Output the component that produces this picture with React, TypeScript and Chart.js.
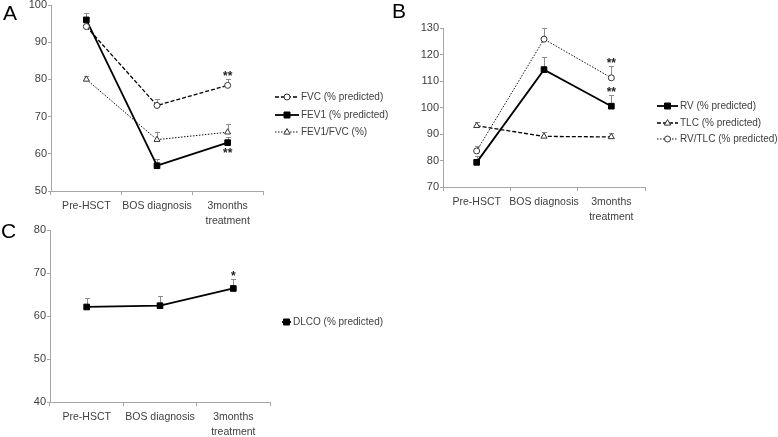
import React, { useEffect, useRef } from 'react';
import { Chart, registerables } from 'chart.js';
Chart.register(...registerables);

const W = 778;
const H = 437;
const FONT = "'Liberation Sans', Arial, sans-serif";
const TEXT = '#404040';
const AXIS = '#a6a6a6';
const ERR = '#8c8c8c';

const categories: (string | string[])[] = ['Pre-HSCT', 'BOS diagnosis', ['3months', 'treatment']];

// Panel A
const yTicksA = [50, 60, 70, 80, 90, 100];
const fvc = [94.2, 73.0, 78.4];
const fvcUpper = [95.6, 74.7, 80.2];
const fvcMarks = ['', '', '**'];
const fev1 = [96.0, 56.8, 63.0];
const fev1Upper = [97.9, 58.7, 64.6];
const fev1Marks = ['', '', '**'];
const fev1Fvc = [80.0, 63.8, 65.8];
const fev1FvcUpper = [80.9, 65.8, 68.0];
const fev1FvcMarks = ['', '', ''];

// Panel B
const yTicksB = [70, 80, 90, 100, 110, 120, 130];
const rv = [79.3, 114.3, 100.5];
const rvUpper = [81.6, 119.0, 104.8];
const rvMarks = ['', '', '**'];
const tlc = [93.1, 89.1, 88.9];
const tlcUpper = [94.5, 90.6, 90.3];
const tlcMarks = ['', '', ''];
const rvTlc = [83.6, 125.8, 111.2];
const rvTlcUpper = [85.6, 130.0, 115.6];
const rvTlcMarks = ['', '', '**'];

// Panel C
const yTicksC = [40, 50, 60, 70, 80];
const dlco = [62.1, 62.4, 66.4];
const dlcoUpper = [64.1, 64.6, 68.6];
const dlcoMarks = ['', '', '*'];

type Area = { left: number; right: number; top: number; bottom: number };

function drawMarker(ctx: CanvasRenderingContext2D, style: string, x: number, y: number, r: number, fill: string, stroke: string) {
  ctx.save();
  ctx.fillStyle = fill;
  ctx.strokeStyle = stroke;
  ctx.lineWidth = 1;
  ctx.setLineDash([]);
  ctx.beginPath();
  if (style === 'rect') {
    const s = r * 0.75;
    ctx.rect(x - s, y - s, 2 * s, 2 * s);
  } else if (style === 'triangle') {
    ctx.moveTo(x, y - r);
    ctx.lineTo(x + r * 0.9, y + r * 0.6);
    ctx.lineTo(x - r * 0.9, y + r * 0.6);
    ctx.closePath();
  } else {
    ctx.arc(x, y, r, 0, Math.PI * 2);
  }
  ctx.fill();
  ctx.stroke();
  ctx.restore();
}

const annotate = {
  id: 'annotate',
  beforeDatasetsDraw(chart: any) {
    const ctx = chart.ctx;
    const ys = chart.scales.y;
    chart.data.datasets.forEach((ds: any, di: number) => {
      const meta = chart.getDatasetMeta(di);
      meta.data.forEach((pt: any, i: number) => {
        const up = ds.errUpper[i];
        const x = Math.round(pt.x) + 0.5;
        const yTop = Math.round(ys.getPixelForValue(up)) + 0.5;
        ctx.save();
        ctx.strokeStyle = ERR;
        ctx.lineWidth = 1;
        ctx.beginPath();
        ctx.moveTo(x, pt.y);
        ctx.lineTo(x, yTop);
        ctx.moveTo(x - 2.5, yTop);
        ctx.lineTo(x + 2.5, yTop);
        ctx.stroke();
        ctx.restore();
      });
    });
  },
  afterDatasetsDraw(chart: any, _args: any, opts: any) {
    const ctx = chart.ctx;
    const ys = chart.scales.y;
    chart.data.datasets.forEach((ds: any, di: number) => {
      const meta = chart.getDatasetMeta(di);
      meta.data.forEach((pt: any, i: number) => {
        const m = ds.marks[i];
        if (!m) return;
        ctx.save();
        ctx.fillStyle = '#222';
        ctx.font = `bold 12px ${FONT}`;
        ctx.textAlign = 'center';
        ctx.textBaseline = 'alphabetic';
        if (ds.markPos === 'below') {
          ctx.fillText(m, pt.x, pt.y + 14);
        } else {
          const yTop = ys.getPixelForValue(ds.errUpper[i]);
          ctx.fillText(m, pt.x, yTop + 1);
        }
        ctx.restore();
      });
    });
    const lg = opts.legend;
    chart.data.datasets.forEach((ds: any, di: number) => {
      const y = lg.ys[di];
      ctx.save();
      ctx.strokeStyle = ds.borderColor;
      ctx.lineWidth = ds.borderWidth;
      ctx.setLineDash(ds.borderDash || []);
      ctx.beginPath();
      ctx.moveTo(lg.x, y);
      ctx.lineTo(lg.x + lg.len, y);
      ctx.stroke();
      ctx.restore();
      drawMarker(ctx, ds.pointStyle, lg.x + lg.len / 2, y, ds.pointRadius, ds.pointBackgroundColor, ds.pointBorderColor);
      ctx.save();
      ctx.fillStyle = TEXT;
      ctx.font = `10px ${FONT}`;
      ctx.textAlign = 'left';
      ctx.textBaseline = 'middle';
      ctx.fillText(ds.label, lg.x + lg.len + 2, y);
      ctx.restore();
    });
    ctx.save();
    ctx.fillStyle = '#000';
    ctx.font = `21px ${FONT}`;
    ctx.textAlign = 'left';
    ctx.textBaseline = 'alphabetic';
    ctx.fillText(opts.letter, opts.letterX, opts.letterY);
    ctx.restore();
  },
};

function series(label: string, data: number[], upper: number[], marks: string[], kind: string, markPos = 'above') {
  const base: any = {
    label,
    data,
    errUpper: upper,
    marks,
    markPos,
    borderColor: '#000',
    pointBorderColor: '#333',
    pointBorderWidth: 1,
    pointHoverRadius: 0,
  };
  if (kind === 'solidSquare') {
    return { ...base, borderWidth: 1.8, borderDash: [], pointStyle: 'rect', pointRadius: 4, pointBackgroundColor: '#000', pointBorderColor: '#000' };
  }
  if (kind === 'dashCircle') {
    return { ...base, borderWidth: 1.3, borderDash: [4, 2], pointStyle: 'circle', pointRadius: 3, pointBackgroundColor: '#fff' };
  }
  if (kind === 'dashTriangle') {
    return { ...base, borderWidth: 1.3, borderDash: [4, 2], pointStyle: 'triangle', pointRadius: 3.5, pointBackgroundColor: '#fff' };
  }
  if (kind === 'dotTriangle') {
    return { ...base, borderColor: '#111', borderWidth: 1, borderDash: [1.5, 1.5], pointStyle: 'triangle', pointRadius: 3.5, pointBackgroundColor: '#fff' };
  }
  return { ...base, borderColor: '#111', borderWidth: 1, borderDash: [1.5, 1.5], pointStyle: 'circle', pointRadius: 3, pointBackgroundColor: '#fff' };
}

function makeConfig(area: Area, yTicks: number[], datasets: any[], plug: any): any {
  const xh = Math.min(44, Math.floor(H - area.bottom));
  return {
    type: 'line',
    data: { labels: categories, datasets },
    plugins: [annotate],
    options: {
      animation: false,
      responsive: false,
      devicePixelRatio: 1,
      events: [],
      layout: {
        padding: {
          left: area.left - 40,
          right: W - area.right,
          top: area.top,
          bottom: H - area.bottom - xh,
        },
      },
      plugins: {
        legend: { display: false },
        tooltip: { enabled: false },
        annotate: plug,
      },
      elements: { line: { tension: 0 } },
      scales: {
        x: {
          type: 'category',
          offset: true,
          grid: { display: true, drawOnChartArea: false, drawTicks: true, tickLength: 4, color: AXIS, offset: true },
          border: { display: true, color: AXIS, width: 1 },
          ticks: { color: TEXT, font: { family: FONT, size: 10.5, lineHeight: 1.45 }, padding: 3, maxRotation: 0, autoSkip: false },
          afterFit(s: any) { s.height = xh; s.paddingLeft = 0; s.paddingRight = 0; },
        },
        y: {
          min: yTicks[0],
          max: yTicks[yTicks.length - 1],
          grid: { display: true, drawOnChartArea: false, drawTicks: true, tickLength: 3, color: AXIS },
          border: { display: true, color: AXIS, width: 1 },
          ticks: { stepSize: 10, color: TEXT, font: { family: FONT, size: 11 }, padding: 1 },
          afterFit(s: any) { s.width = 40; s.paddingTop = 0; s.paddingBottom = 0; },
        },
      },
    },
  };
}

function Panel({ build }: { build: () => any }) {
  const ref = useRef<HTMLCanvasElement>(null);
  useEffect(() => {
    const chart = new Chart(ref.current as HTMLCanvasElement, build());
    return () => chart.destroy();
  }, []);
  return (
    <canvas
      ref={ref}
      width={W}
      height={H}
      style={{ position: 'absolute', left: 0, top: 0, width: W, height: H }}
    />
  );
}

const buildA = () =>
  makeConfig({ left: 51, right: 263, top: 5, bottom: 191 }, yTicksA, [
    series('FVC (% predicted)', fvc, fvcUpper, fvcMarks, 'dashCircle'),
    series('FEV1 (% predicted)', fev1, fev1Upper, fev1Marks, 'solidSquare', 'below'),
    series('FEV1/FVC (%)', fev1Fvc, fev1FvcUpper, fev1FvcMarks, 'dotTriangle'),
  ], { letter: 'A', letterX: 3, letterY: 20, legend: { x: 275, len: 24, ys: [97, 115, 132] } });

const buildB = () =>
  makeConfig({ left: 443, right: 645, top: 28, bottom: 187 }, yTicksB, [
    series('RV (% predicted)', rv, rvUpper, rvMarks, 'solidSquare'),
    series('TLC (% predicted)', tlc, tlcUpper, tlcMarks, 'dashTriangle'),
    series('RV/TLC (% predicted)', rvTlc, rvTlcUpper, rvTlcMarks, 'dotCircle'),
  ], { letter: 'B', letterX: 392, letterY: 18, legend: { x: 657, len: 21, ys: [106, 123, 139] } });

const buildC = () =>
  makeConfig({ left: 50, right: 270, top: 230, bottom: 402 }, yTicksC, [
    series('DLCO (% predicted)', dlco, dlcoUpper, dlcoMarks, 'solidSquare'),
  ], { letter: 'C', letterX: 1, letterY: 238, legend: { x: 282, len: 9, ys: [322] } });

export default function App() {
  return (
    <div style={{ position: 'absolute', left: 0, top: 0, width: W, height: H, background: '#fff', overflow: 'hidden' }}>
      <Panel build={buildA} />
      <Panel build={buildB} />
      <Panel build={buildC} />
    </div>
  );
}
